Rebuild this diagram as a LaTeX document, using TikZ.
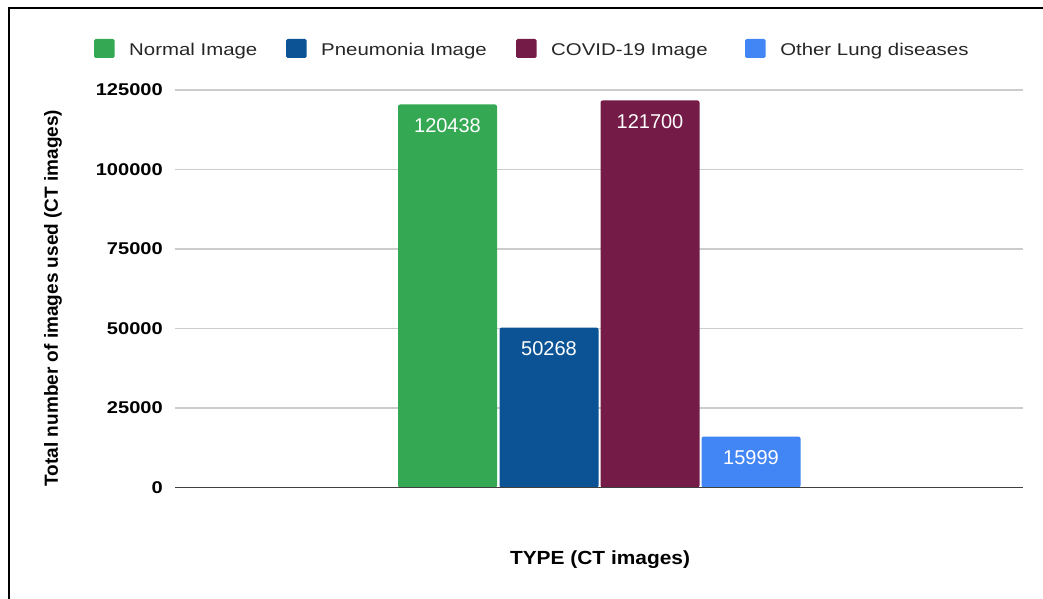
\documentclass[tikz,border=0pt]{standalone}
\usepackage{fontspec}
\setmainfont{Liberation Sans}
\definecolor{normalgreen}{HTML}{34A853}
\definecolor{pneublue}{HTML}{0B5394}
\definecolor{covidpurple}{HTML}{741B47}
\definecolor{otherblue}{HTML}{4285F4}
\definecolor{gridgray}{HTML}{CCCCCC}
\begin{document}
\begin{tikzpicture}[x=1pt,y=-1pt,
  grid/.style={gridgray,line width=1.2pt},
  tick/.style={anchor=east,inner sep=0pt,xscale=1.18,font=\fontsize{17}{20}\selectfont\bfseries},
  legtext/.style={anchor=base west,inner sep=0pt,xscale=1.2,text=black!85,font=\fontsize{17}{20}\selectfont},
  legbox/.style={rounded corners=1.5pt},
  barlabel/.style={text=white,inner sep=0pt,font=\fontsize{20}{24}\selectfont}]
\useasboundingbox (0,0) rectangle (1043,599);

% frame
\draw[line width=2.5pt] (9,599) -- (9,8) -- (1043,8);

% grid and ticks
\foreach \v/\y in {25000/408,50000/328.5,75000/249,100000/169.5,125000/90}{
  \draw[grid] (175,\y) -- (1023,\y);
  \node[tick] (t\v) at (163,\y) {\v};
}
\node[tick] (t0) at (163,487.5) {0};

% bars
\foreach \x/\top/\col/\val/\name in {398/104.5/normalgreen/120438/normal,
    499.5/327.6/pneublue/50268/pneu,
    600.5/100.5/covidpurple/121700/covid,
    701.5/436.6/otherblue/15999/other}{
  \fill[\col,rounded corners=2pt] (\x,487.5) rectangle (\x+99,\top);
  \node[barlabel] (\name) at (\x+49.5,\top+21) {\val};
}
\draw[black!75,line width=1.5pt] (175,487.5) -- (1023,487.5);

% legend
\foreach \sx/\col/\txt/\name in {94/normalgreen/Normal Image/lnormal,
    286/pneublue/Pneumonia Image/lpneu,
    516/covidpurple/COVID-19 Image/lcovid,
    745/otherblue/Other Lung diseases/lother}{
  \fill[\col,legbox] (\sx,39) rectangle ++(20.5,19);
  \node[legtext] (\name) at (\sx+35,55.5) {\txt};
}

% axis titles
\node[rotate=90,font=\fontsize{19}{22}\selectfont\bfseries] (ytitle) at (53,298) {Total number of images used (CT images)};
\node[xscale=1.1,font=\fontsize{19}{22}\selectfont\bfseries] (xtitle) at (600,560) {TYPE (CT images)};
\end{tikzpicture}
\end{document}
